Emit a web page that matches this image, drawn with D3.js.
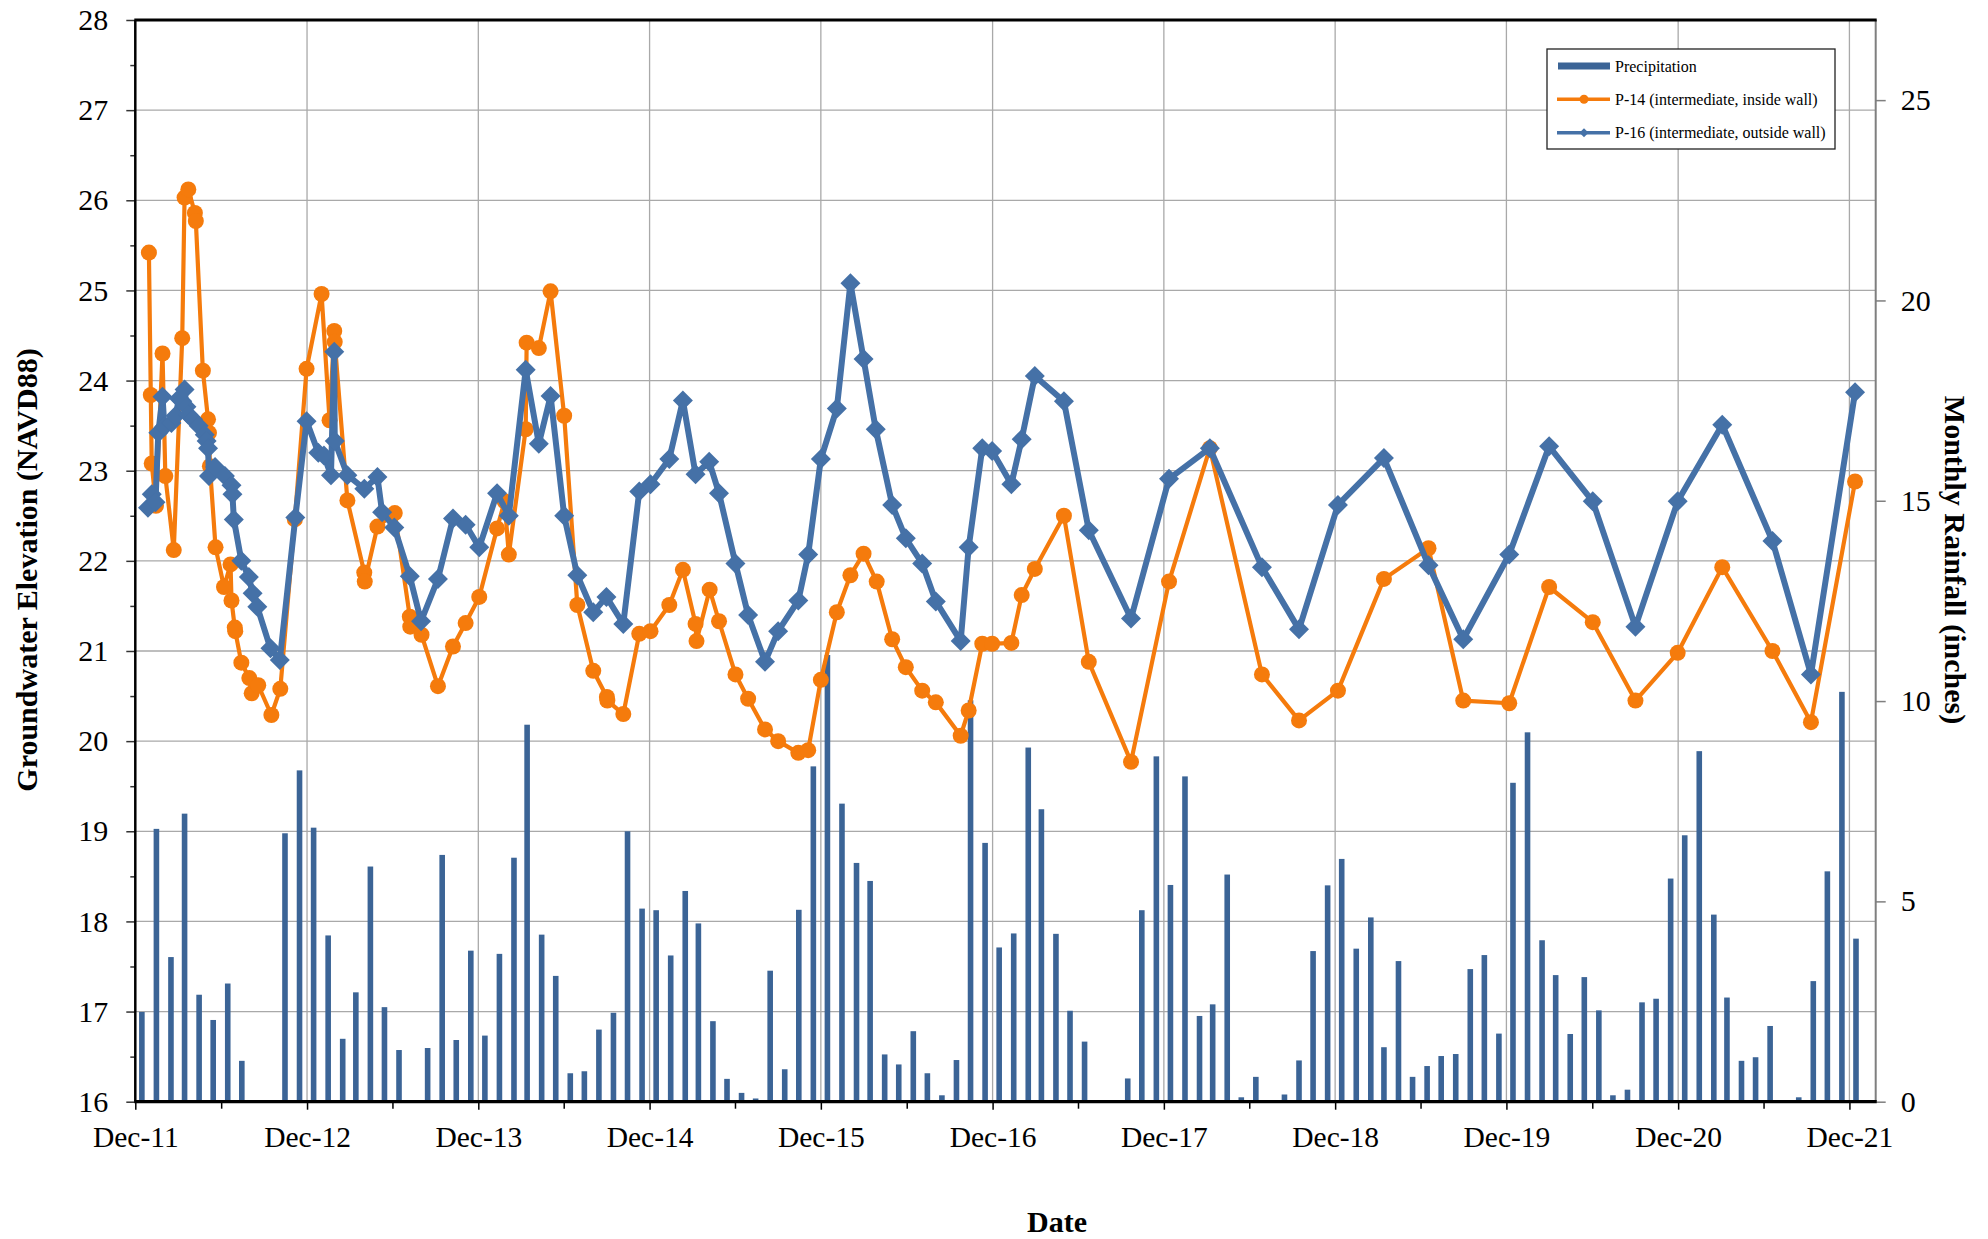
<!DOCTYPE html>
<html>
<head>
<meta charset="utf-8">
<script src="https://cdn.jsdelivr.net/npm/d3@7"></script>
<style>
  body { margin: 0; background: #fff; }
  svg text { font-family: "Liberation Serif", "Times New Roman", serif; }
</style>
</head>
<body>
<svg id="chart" width="1988" height="1239"></svg>
<script>
// ---- data ----
var xTickLabels = ["Dec-11","Dec-12","Dec-13","Dec-14","Dec-15","Dec-16","Dec-17","Dec-18","Dec-19","Dec-20","Dec-21"];
var leftTicks = [16,17,18,19,20,21,22,23,24,25,26,27,28];
var rightTicks = [0,5,10,15,20,25];

// monthly rainfall, Dec 2011 .. Dec 2021 (inches)
var rainInches = [
  2.24, 6.81, 3.61, 7.19, 2.67, 2.04, 2.95, 1.02, 0, 0.02, 6.70, 8.27,
  6.84, 4.15, 1.57, 2.73, 5.87, 2.36, 1.29, 0, 1.34, 6.16, 1.54, 3.77,
  1.65, 3.69, 6.09, 9.41, 4.17, 3.14, 0.71, 0.76, 1.80, 2.22, 6.75, 4.82,
  4.78, 3.65, 5.26, 4.45, 2.01, 0.57, 0.22, 0.08, 3.27, 0.81, 4.79, 8.37,
  11.15, 7.44, 5.96, 5.51, 1.18, 0.93, 1.76, 0.71, 0.16, 1.04, 10.02, 6.46,
  3.85, 4.20, 8.84, 7.30, 4.19, 2.27, 1.50, 0, 0.02, 0.58, 4.78, 8.62,
  5.41, 8.12, 2.14, 2.43, 5.67, 0.11, 0.62, 0.03, 0.18, 1.03, 3.76, 5.40,
  6.06, 3.82, 4.60, 1.36, 3.51, 0.62, 0.89, 1.14, 1.19, 3.31, 3.66, 1.70,
  7.96, 9.22, 4.03, 3.16, 1.69, 3.11, 2.28, 0.16, 0.30, 2.48, 2.57, 5.57,
  6.65, 8.75, 4.67, 2.60, 1.02, 1.11, 1.89, 0, 0.11, 3.01, 5.75, 10.23,
  4.07
];

var p14Dates = [
  "2011-12-30","2012-01-03","2012-01-05","2012-01-14","2012-01-28","2012-02-03","2012-02-21","2012-03-10","2012-03-15","2012-03-23",
  "2012-04-06","2012-04-08","2012-04-23","2012-05-04","2012-05-06","2012-05-08","2012-05-20","2012-06-07","2012-06-21","2012-06-23",
  "2012-06-30","2012-07-01","2012-07-14","2012-07-31","2012-08-05","2012-08-19","2012-09-16","2012-10-05","2012-11-05","2012-11-30",
  "2013-01-01","2013-01-18","2013-01-28","2013-01-29","2013-02-25","2013-04-02","2013-04-03","2013-04-30","2013-06-06","2013-07-08",
  "2013-07-09","2013-08-02","2013-09-06","2013-10-08","2013-11-04","2013-12-03",
  "2014-01-10","2014-01-26","2014-02-04","2014-03-12","2014-03-14","2014-04-09","2014-05-04","2014-06-02","2014-06-30","2014-08-03",
  "2014-09-01","2014-09-02","2014-10-06","2014-11-09","2014-12-03",
  "2015-01-12","2015-02-10","2015-03-09","2015-03-11","2015-04-08","2015-04-28","2015-06-02","2015-06-29","2015-08-04","2015-09-01",
  "2015-10-14","2015-11-04","2015-12-01",
  "2016-01-04","2016-02-02","2016-03-01","2016-03-29","2016-05-01","2016-05-30","2016-07-04","2016-08-02","2016-09-24","2016-10-11",
  "2016-11-09","2016-11-30",
  "2017-01-10","2017-02-01","2017-03-01","2017-05-02","2017-06-24","2017-09-22","2017-12-12",
  "2018-03-09","2018-06-28","2018-09-15","2018-12-07",
  "2019-03-15","2019-06-18","2019-08-31","2019-12-07",
  "2020-03-01","2020-06-02","2020-09-01","2020-11-30",
  "2021-03-05","2021-06-20","2021-09-10","2021-12-13"
];
var p14Elev = [
  25.42,23.84,23.08,22.61,24.30,22.94,22.12,24.47,26.03,26.12,
  25.86,25.77,24.11,23.57,23.42,23.05,22.15,21.71,21.96,21.56,
  21.26,21.22,20.87,20.70,20.53,20.62,20.29,20.58,22.46,24.13,
  24.96,23.56,24.55,24.43,22.67,21.87,21.77,22.38,22.53,21.38,
  21.27,21.18,20.61,21.05,21.31,21.60,
  22.36,22.66,22.07,23.46,24.42,24.36,24.99,23.61,21.51,20.78,
  20.49,20.45,20.30,21.19,21.22,
  21.51,21.90,21.30,21.11,21.68,21.33,20.74,20.47,20.13,20.00,
  19.87,19.90,20.68,
  21.43,21.84,22.08,21.77,21.13,20.82,20.56,20.43,20.06,20.34,
  21.08,21.08,
  21.09,21.62,21.91,22.50,20.88,19.77,21.77,
  23.25,20.74,20.23,20.56,
  21.80,22.14,20.45,20.42,
  21.71,21.32,20.45,20.98,
  21.93,21.00,20.21,22.88
];

var p16Dates = [
  "2011-12-28","2012-01-05","2012-01-13","2012-01-19","2012-01-28","2012-02-01","2012-02-16","2012-02-25","2012-03-03","2012-03-10",
  "2012-03-15","2012-03-19","2012-03-23","2012-04-02","2012-04-14","2012-04-27","2012-05-01","2012-05-04","2012-05-06","2012-05-19",
  "2012-06-09","2012-06-23","2012-06-25","2012-06-28","2012-07-14","2012-07-30","2012-08-07","2012-08-17","2012-09-14","2012-10-04",
  "2012-11-06","2012-11-30","2012-12-25",
  "2013-01-06","2013-01-21","2013-01-28","2013-01-29","2013-02-25","2013-04-02","2013-04-30","2013-05-10","2013-06-05","2013-07-08",
  "2013-08-01","2013-09-06","2013-10-08","2013-11-04","2013-12-03",
  "2014-01-10","2014-02-04","2014-03-12","2014-04-09","2014-05-04","2014-06-02","2014-06-30","2014-08-03","2014-08-31","2014-10-06",
  "2014-11-09","2014-12-03",
  "2015-01-12","2015-02-10","2015-03-09","2015-04-07","2015-04-28","2015-06-02","2015-06-29","2015-08-04","2015-09-01","2015-10-14",
  "2015-11-04","2015-12-01",
  "2016-01-04","2016-02-02","2016-03-01","2016-03-27","2016-05-01","2016-05-30","2016-07-04","2016-08-02","2016-09-24","2016-10-11",
  "2016-11-09","2016-11-30",
  "2017-01-10","2017-02-01","2017-03-01","2017-05-02","2017-06-24","2017-09-22","2017-12-12",
  "2018-03-09","2018-06-28","2018-09-15","2018-12-07",
  "2019-03-15","2019-06-18","2019-08-31","2019-12-07",
  "2020-03-01","2020-06-02","2020-09-01","2020-11-30",
  "2021-03-05","2021-06-20","2021-09-10","2021-12-13"
];
var p16Elev = [
  22.59,22.74,22.65,23.42,23.82,23.49,23.53,23.61,23.80,23.77,
  23.90,23.71,23.62,23.57,23.50,23.40,23.33,23.25,22.94,23.04,
  22.94,22.84,22.74,22.46,22.00,21.82,21.64,21.49,21.03,20.90,
  22.48,23.55,23.20,
  23.17,22.95,24.32,23.33,22.95,22.80,22.93,22.54,22.37,21.83,
  21.33,21.80,22.47,22.40,22.15,
  22.75,22.50,24.12,23.30,23.83,22.50,21.84,21.43,21.60,21.30,
  22.77,22.85,
  23.13,23.78,22.96,23.10,22.75,21.97,21.40,20.88,21.22,21.56,
  22.07,23.13,
  23.69,25.08,24.24,23.46,22.62,22.25,21.97,21.55,21.11,22.15,
  23.25,23.22,
  22.85,23.35,24.05,23.77,22.34,21.36,22.91,
  23.25,21.93,21.24,22.62,
  23.14,21.95,21.13,22.07,
  23.27,22.66,21.27,22.66,
  23.51,22.22,20.74,23.87
];

var seriesNames = ["Precipitation", "P-14 (intermediate, inside wall)", "P-16 (intermediate, outside wall)"];

// ---- colours ----
var barColor = "#3b6496";
var orange = "#f57b0c";
var blue = "#4571a7";

// ---- layout ----
var plotL = 135.3, plotR = 1875.7, plotT = 20, plotB = 1101.7;

var parse = d3.timeParse("%Y-%m-%d");

var p14 = p14Dates.map(function(d, i){ return {date: parse(d), v: p14Elev[i]}; });
var p16 = p16Dates.map(function(d, i){ return {date: parse(d), v: p16Elev[i]}; });

var months = d3.timeMonth.range(new Date(2011, 11, 1), new Date(2022, 0, 1));
var rain = months.map(function(m, i){ return {date: d3.timeDay.offset(m, 14), v: rainInches[i]}; });

var decTicks = d3.range(2011, 2022).map(function(y){ return new Date(y, 11, 1); });
var junTicks = d3.range(2012, 2022).map(function(y){ return new Date(y, 5, 1); });

var x = d3.scaleTime()
    .domain([new Date(2011, 11, 1), new Date(2022, 0, 26)])
    .range([plotL, plotR]);
var yL = d3.scaleLinear().domain([16, 28]).range([plotB, plotT]);
var yR = d3.scaleLinear().domain([0, 27]).range([plotB, plotT]);

var svg = d3.select("#chart");
svg.append("rect").attr("width", 1988).attr("height", 1239).attr("fill", "#fff");

// gridlines
var grid = svg.append("g").attr("stroke", "#a9a9a9").attr("stroke-width", 1.3);
grid.selectAll(".hg")
    .data(leftTicks.slice(1, -1))
    .enter().append("line")
    .attr("x1", plotL).attr("x2", plotR)
    .attr("y1", function(d){ return yL(d); })
    .attr("y2", function(d){ return yL(d); });
grid.selectAll(".vg")
    .data(decTicks.slice(1))
    .enter().append("line")
    .attr("x1", function(d){ return x(d); })
    .attr("x2", function(d){ return x(d); })
    .attr("y1", plotT).attr("y2", plotB);

// precipitation bars
var barW = 5.6;
svg.append("g").selectAll("rect")
    .data(rain)
    .enter().append("rect")
    .attr("x", function(d){ return x(d.date) - barW / 2; })
    .attr("y", function(d){ return yR(d.v); })
    .attr("width", barW)
    .attr("height", function(d){ return yR(0) - yR(d.v); })
    .attr("fill", barColor);

// axes
function styleAxis(g, tickColor, size) {
  g.select(".domain").remove();
  g.selectAll(".tick line").attr("stroke", tickColor).attr("stroke-width", 1.5);
  g.selectAll(".tick text")
    .attr("fill", "#000")
    .style("font-size", size + "px");
  g.attr("font-family", null);
}

var leftAxis = svg.append("g")
    .attr("transform", "translate(" + plotL + ",0)")
    .call(d3.axisLeft(yL).tickValues(leftTicks).tickSize(9).tickSizeOuter(0).tickPadding(18).tickFormat(d3.format("d")));
styleAxis(leftAxis, "#333", 30);

var leftMinor = svg.append("g")
    .attr("transform", "translate(" + plotL + ",0)")
    .call(d3.axisLeft(yL).tickValues(d3.range(16.5, 28, 1)).tickSize(5).tickSizeOuter(0).tickFormat(""));
styleAxis(leftMinor, "#333", 30);

var rightAxis = svg.append("g")
    .attr("transform", "translate(" + plotR + ",0)")
    .call(d3.axisRight(yR).tickValues(rightTicks).tickSize(10).tickSizeOuter(0).tickPadding(15).tickFormat(d3.format("d")));
styleAxis(rightAxis, "#7f7f7f", 30);

var bottomAxis = svg.append("g")
    .attr("transform", "translate(0," + plotB + ")")
    .call(d3.axisBottom(x).tickValues(decTicks).tickSize(8).tickSizeOuter(0).tickPadding(16)
      .tickFormat(function(d, i){ return xTickLabels[i]; }));
styleAxis(bottomAxis, "#000", 29.5);

var bottomMinor = svg.append("g")
    .attr("transform", "translate(0," + plotB + ")")
    .call(d3.axisBottom(x).tickValues(junTicks).tickSize(7).tickSizeOuter(0).tickFormat(""));
styleAxis(bottomMinor, "#000", 29.5);

// frame lines
svg.append("line").attr("x1", plotR).attr("x2", plotR).attr("y1", plotT).attr("y2", plotB)
    .attr("stroke", "#7f7f7f").attr("stroke-width", 2);
svg.append("line").attr("x1", plotL - 1).attr("x2", plotR + 1).attr("y1", plotT).attr("y2", plotT)
    .attr("stroke", "#000").attr("stroke-width", 3);
svg.append("line").attr("x1", plotL).attr("x2", plotL).attr("y1", plotT).attr("y2", plotB)
    .attr("stroke", "#000").attr("stroke-width", 2.5);
svg.append("line").attr("x1", plotL - 1).attr("x2", plotR + 1).attr("y1", plotB).attr("y2", plotB)
    .attr("stroke", "#000").attr("stroke-width", 3.3);

// series lines
var lineL = d3.line()
    .x(function(d){ return x(d.date); })
    .y(function(d){ return yL(d.v); });

svg.append("path").datum(p14)
    .attr("d", lineL)
    .attr("fill", "none")
    .attr("stroke", orange)
    .attr("stroke-width", 4.2)
    .attr("stroke-linejoin", "round");
svg.append("g").selectAll("circle")
    .data(p14)
    .enter().append("circle")
    .attr("cx", function(d){ return x(d.date); })
    .attr("cy", function(d){ return yL(d.v); })
    .attr("r", 8)
    .attr("fill", orange);

var diamond = d3.symbol().type(d3.symbolSquare).size(200);
svg.append("path").datum(p16)
    .attr("d", lineL)
    .attr("fill", "none")
    .attr("stroke", blue)
    .attr("stroke-width", 6)
    .attr("stroke-linejoin", "round");
svg.append("g").selectAll("path")
    .data(p16)
    .enter().append("path")
    .attr("d", diamond)
    .attr("transform", function(d){ return "translate(" + x(d.date) + "," + yL(d.v) + ") rotate(45)"; })
    .attr("fill", blue);

// axis titles
svg.append("text")
    .attr("transform", "translate(26,570) rotate(-90)")
    .attr("text-anchor", "middle")
    .attr("dy", "0.35em")
    .style("font-size", "30px")
    .style("font-weight", "bold")
    .text("Groundwater Elevation (NAVD88)");

svg.append("text")
    .attr("transform", "translate(1955,560) rotate(90)")
    .attr("text-anchor", "middle")
    .attr("dy", "0.35em")
    .style("font-size", "30px")
    .style("font-weight", "bold")
    .text("Monthly Rainfall (inches)");

svg.append("text")
    .attr("x", 1057).attr("y", 1232)
    .attr("text-anchor", "middle")
    .style("font-size", "30px")
    .style("font-weight", "bold")
    .text("Date");

// legend
var legend = svg.append("g").attr("transform", "translate(1547,49)");
legend.append("rect")
    .attr("width", 288).attr("height", 100)
    .attr("fill", "#fff")
    .attr("stroke", "#222")
    .attr("stroke-width", 1.3);

var rowY = [17, 50.3, 83.7];
legend.append("rect")
    .attr("x", 11).attr("y", rowY[0] - 3.5)
    .attr("width", 52).attr("height", 7)
    .attr("fill", barColor);

legend.append("line")
    .attr("x1", 10).attr("x2", 63).attr("y1", rowY[1]).attr("y2", rowY[1])
    .attr("stroke", orange).attr("stroke-width", 3.5);
legend.append("circle")
    .attr("cx", 37).attr("cy", rowY[1]).attr("r", 4.5)
    .attr("fill", orange);

legend.append("line")
    .attr("x1", 10).attr("x2", 63).attr("y1", rowY[2]).attr("y2", rowY[2])
    .attr("stroke", blue).attr("stroke-width", 3.5);
legend.append("path")
    .attr("d", d3.symbol().type(d3.symbolSquare).size(40))
    .attr("transform", "translate(37," + rowY[2] + ") rotate(45)")
    .attr("fill", blue);

legend.selectAll(".lt")
    .data(seriesNames)
    .enter().append("text")
    .attr("x", 68)
    .attr("y", function(d, i){ return rowY[i]; })
    .attr("dy", "0.35em")
    .style("font-size", "16px")
    .text(function(d){ return d; });
</script>
</body>
</html>
